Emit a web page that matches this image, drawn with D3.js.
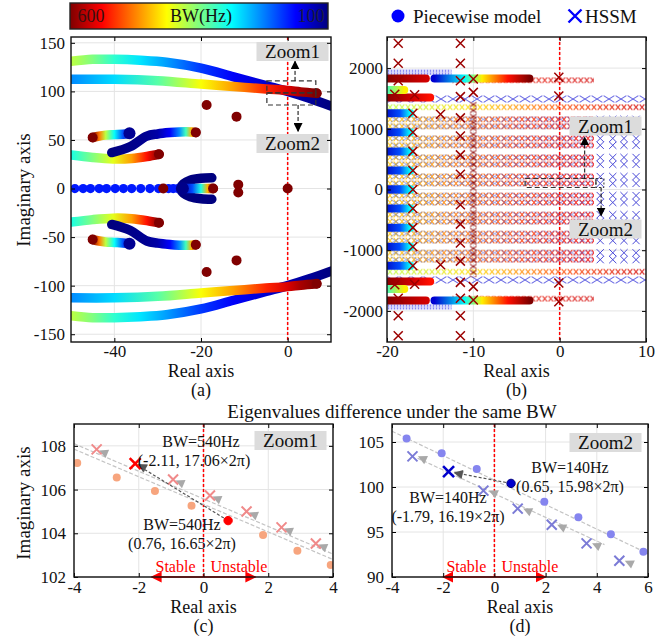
<!DOCTYPE html>
<html>
<head>
<meta charset="utf-8">
<script src="https://cdn.jsdelivr.net/npm/d3@7"></script>
<style>
  body { margin: 0; background: #fff; }
  text { font-family: "Liberation Serif", "Times New Roman", serif; }
</style>
</head>
<body>
<svg id="chart" width="670" height="638"></svg>
<script>
// ---------------- data ----------------
// colour bar end labels (BW in Hz)
const bwLabels = [600, 100];

// panel (a): piecewise-model eigen loci, [real, imag, BW]; conjugates drawn mirrored
const locusTop = [[-50, 131, 380], [-45, 133, 350], [-40, 133, 310], [-34, 132, 275], [-28, 130, 240],
  [-20, 124, 190], [-12.5, 115, 160], [-5, 106, 140], [0, 100, 125], [5, 93, 112], [10, 85, 100]];
const locusMid = [[-50, 112.5, 230], [-40, 112.5, 270], [-30, 111, 330], [-20, 107.5, 410],
  [-12.5, 105, 460], [-5, 102.5, 520], [0, 101, 555], [3, 99.5, 580], [6.7, 98, 600]];
const locus53 = [[-45, 52.5, 600], [-43.5, 54, 480], [-42, 55, 380], [-40, 55.5, 290], [-38, 56, 200], [-36.5, 56.5, 120]];
const locusRise = [[-40.6, 37, 100], [-36.4, 43, 105], [-32.5, 54, 110], [-30, 56.2, 120], [-27.2, 57.6, 160],
  [-25, 58.3, 230], [-23.5, 58.5, 320], [-22.2, 58.3, 450], [-21.2, 57.8, 600]];
const locus35 = [[-50, 34.6, 300], [-45, 32, 350], [-40.3, 30.5, 400], [-36, 31, 460], [-32.5, 33, 530], [-29.7, 35.3, 600]];
const locusFork = [[-24, 0, 130], [-22, 0, 200], [-20, 0, 300], [-18.5, 0, 450], [-17.2, 0, 600]];
const locusBranch = [[-24.8, 0.5, 100], [-24, 5, 100], [-22.5, 8.5, 100], [-20, 10.5, 100], [-17.5, 11, 100]];
const realAxisDots = [-49.1, -47.2, -45.5, -43.5, -41.8, -39.8, -37.9, -36, -33.9, -31.8, -29.8, -27.5, -26.4, -25.3];
const fixedPolesA = [[-18.7, 86], [-11.8, 74], [-11.4, 4], [0, 0], [-28.7, 0], [-17.2, 0]];
const locusEnds = [[-45, 52.5], [-21.2, 57.8], [-29.7, 35.3], [6.7, 98]];

// panel (b): HSSM sub-rows (imag parts, with conjugates) and colour runs [x, BW]
const hssmRowY = [100, 214, 414, 528, 728, 842, 1042, 1156];
const hssmRowRun = [[-20, 440], [-12, 480], [-5, 510], [4, 545]];
const hssmRow1356 = [[-20, 380], [-10, 430], [0, 500], [10, 560]];
const hssmRow1800 = [[-12.5, 520], [4, 560]];
const hssmBlueRightX = [4.7, 6.15, 7.45, 8.85];
const hssmBlueRowY = [1490];
const hssmBlueDenseY = 1932;
const hssmDark = [[-18.7, 2410], [-18.7, 2080], [-18.7, 1790], [-19.1, 1570], [-16.8, 1560],
  [-11.5, 2410], [-11.5, 2080], [-11.5, 1790], [-11.5, 1530], [-10, 1820], [-10, 1600],
  [-0.1, 1850], [-0.1, 1540], [-13.8, 1240], [-17, 1256], [-17, 942], [-17, 628], [-17, 314], [-17, 0],
  [-11.5, 1180], [-11.5, 880], [-11.5, 570], [-11.5, 250]];
const hssmChain = [-10, 1450];
const pwBlobY = [0, 314, 628, 942, 1256];
const pwBlobRun = [[-20.5, 0, 130], [-18.5, 0, 200], [-17.3, 0, 290]];
const pwStrips = [
  [[-20.5, 1516, 600], [-17, 1516, 560], [-15, 1516, 530]],
  [[-20.5, 1640, 300], [-18, 1640, 420]],
  [[-20.5, 1830, 600], [-15.5, 1830, 560]],
  [[-14.5, 1830, 140], [-11, 1830, 290], [-9, 1830, 420], [-6, 1830, 530], [-3.5, 1830, 600]]
];

// panel (c): zoom 1, BW = 540 Hz side
const zoom1Dots = [[-3.9, 107.22], [-2.68, 106.55], [-1.5, 105.93], [-0.37, 105.26], [1.84, 103.92], [2.9, 103.2], [3.93, 102.55]];
const zoom1Cross = [[-3.3, 107.84], [-0.94, 106.46], [0.2, 105.73], [1.33, 105.0], [2.41, 104.27], [3.47, 103.53]];
const zoom1Dot540 = [0.76, 104.58];
const zoom1Cross540 = [-2.11, 107.19];
const zoom1Guides = [[[-4, 108.1], [4, 103.05]], [[-4, 107.85], [4, 102.8]]];

// panel (d): zoom 2, BW = 140 Hz side
const zoom2Dots = [[-3.43, 105.4], [-2.06, 103.74], [-0.69, 102.0], [1.95, 98.37], [3.28, 96.63], [4.55, 94.74], [5.82, 92.8]];
const zoom2Cross = [[-3.2, 103.4], [-0.43, 99.6], [0.91, 97.6], [2.24, 95.8], [3.6, 93.74], [4.88, 91.8]];
const zoom2Dot140 = [0.65, 100.4];
const zoom2Cross140 = [-1.79, 101.7];
const zoom2Guides = [[[-4, 106.2], [6, 92.6]], [[-3, 103.2], [4.3, 93.6]]];

// ticks
const ticksA = { x: [-40, -20, 0], y: [-150, -100, -50, 0, 50, 100, 150] };
const ticksB = { x: [-20, -10, 0, 10], y: [-2000, -1000, 0, 1000, 2000] };
const ticksC = { x: [-4, -2, 0, 2, 4], y: [102, 104, 106, 108] };
const ticksD = { x: [-4, -2, 0, 2, 4, 6], y: [90, 95, 100, 105] };

// ---------------- setup ----------------
const svg = d3.select("#chart");
const defs = svg.append("defs");

const jet = d3.scaleLinear()
  .domain([0, 0.125, 0.375, 0.625, 0.875, 1])
  .range(["#00007f", "#0000ff", "#00ffff", "#ffff00", "#ff0000", "#7f0000"])
  .clamp(true);
const bwColor = bw => jet((bw - 100) / 500);

const A = { l: 71, r: 331, t: 37, b: 342 };
const B = { l: 387, r: 646, t: 37, b: 342 };
const C = { l: 74, r: 333, t: 424, b: 577 };
const D = { l: 392, r: 648, t: 424, b: 577 };

const xA = d3.scaleLinear().domain([-50, 10]).range([A.l, A.r]);
const yA = d3.scaleLinear().domain([-158, 156]).range([A.b, A.t]);
const xB = d3.scaleLinear().domain([-20, 10]).range([B.l, B.r]);
const yB = d3.scaleLinear().domain([-2512, 2512]).range([B.b, B.t]);
const xC = d3.scaleLinear().domain([-4, 4]).range([C.l, C.r]);
const yC = d3.scaleLinear().domain([102, 109]).range([C.b, C.t]);
const xD = d3.scaleLinear().domain([-4, 6]).range([D.l, D.r]);
const yD = d3.scaleLinear().domain([90, 107]).range([D.b, D.t]);

// arrow heads
function marker(id, color, size) {
  defs.append("marker").attr("id", id)
    .attr("viewBox", "0 0 10 10").attr("refX", 9).attr("refY", 5)
    .attr("markerWidth", size).attr("markerHeight", size)
    .attr("markerUnits", "userSpaceOnUse").attr("orient", "auto-start-reverse")
    .append("path").attr("d", "M0,0L10,5L0,10Z").attr("fill", color);
}
marker("arBlack", "#000", 9);
marker("arRed", "#ff0000", 11);

let gid = 0;
// horizontal gradient from [x, BW] pairs
function runGradient(run, x) {
  const id = "grad" + (gid++);
  const px = run.map(d => x(d[0]));
  const lo = d3.min(px), hi = d3.max(px);
  const stops = run.map((d, i) => ({ o: hi > lo ? (px[i] - lo) / (hi - lo) : 0, c: bwColor(d[1]) }))
    .sort((a, b) => a.o - b.o);
  const g = defs.append("linearGradient").attr("id", id)
    .attr("gradientUnits", "userSpaceOnUse")
    .attr("x1", lo).attr("x2", hi).attr("y1", 0).attr("y2", 0);
  g.selectAll("stop").data(stops).enter().append("stop")
    .attr("offset", d => d.o).attr("stop-color", d => d.c);
  return "url(#" + id + ")";
}

// thick coloured locus through [re, im, BW] points
function drawLocus(g, pts, x, y, w, sign) {
  const line = d3.line().x(p => x(p[0])).y(p => y(sign * p[1])).curve(d3.curveCatmullRom);
  g.append("path")
    .attr("d", line(pts))
    .attr("fill", "none")
    .attr("stroke", runGradient(pts.map(p => [p[0], p[2]]), x))
    .attr("stroke-width", w)
    .attr("stroke-linecap", "round")
    .attr("stroke-linejoin", "round");
}

// row of crosses drawn as a masked strip (pattern of X glyphs)
function crossStrip(g, x0, y0, w, h, tw, th, fill, op) {
  const id = "cm" + (gid++);
  const pat = defs.append("pattern").attr("id", id + "p")
    .attr("patternUnits", "userSpaceOnUse")
    .attr("x", x0).attr("y", y0).attr("width", tw).attr("height", th);
  pat.append("path")
    .attr("d", `M0.6,0.6L${tw - 0.6},${th - 0.6}M${tw - 0.6},0.6L0.6,${th - 0.6}`)
    .attr("stroke", "#fff").attr("stroke-width", 1.1);
  defs.append("mask").attr("id", id).attr("maskUnits", "userSpaceOnUse")
    .attr("x", x0).attr("y", y0).attr("width", w).attr("height", h)
    .append("rect").attr("x", x0).attr("y", y0).attr("width", w).attr("height", h)
    .attr("fill", `url(#${id}p)`);
  g.append("rect").attr("x", x0).attr("y", y0).attr("width", w).attr("height", h)
    .attr("fill", fill).attr("opacity", op).attr("mask", `url(#${id})`);
}

function crossMark(g, cx, cy, s, color, sw) {
  g.append("path")
    .attr("d", `M${cx - s},${cy - s}L${cx + s},${cy + s}M${cx + s},${cy - s}L${cx - s},${cy + s}`)
    .attr("stroke", color).attr("stroke-width", sw).attr("fill", "none");
}

function clipFor(id, P) {
  defs.append("clipPath").attr("id", id)
    .append("rect").attr("x", P.l).attr("y", P.t).attr("width", P.r - P.l).attr("height", P.b - P.t);
}

// grid + ticks + labels
function grid(P, x, y, t) {
  const g = svg.append("g");
  g.selectAll(".gx").data(t.x).enter().append("line")
    .attr("x1", d => x(d)).attr("x2", d => x(d)).attr("y1", P.t).attr("y2", P.b)
    .attr("stroke", "#e4e4e4").attr("stroke-width", 1);
  g.selectAll(".gy").data(t.y).enter().append("line")
    .attr("y1", d => y(d)).attr("y2", d => y(d)).attr("x1", P.l).attr("x2", P.r)
    .attr("stroke", "#e4e4e4").attr("stroke-width", 1);
}
function frame(P, x, y, t, fs, padX, padY) {
  const fmt = d => String(d);
  const gx = svg.append("g").attr("transform", `translate(0,${P.b})`)
    .call(d3.axisBottom(x).tickValues(t.x).tickFormat(fmt).tickSizeInner(-4).tickSizeOuter(0).tickPadding(padX));
  const gy = svg.append("g").attr("transform", `translate(${P.l},0)`)
    .call(d3.axisLeft(y).tickValues(t.y).tickFormat(fmt).tickSizeInner(-4).tickSizeOuter(0).tickPadding(padY));
  svg.append("g").attr("transform", `translate(0,${P.t})`)
    .call(d3.axisTop(x).tickValues(t.x).tickFormat("").tickSizeInner(-4).tickSizeOuter(0));
  svg.append("g").attr("transform", `translate(${P.r},0)`)
    .call(d3.axisRight(y).tickValues(t.y).tickFormat("").tickSizeInner(-4).tickSizeOuter(0));
  svg.selectAll(".domain").remove();
  [gx, gy].forEach(g => g.attr("font-size", fs).attr("font-family", null)
    .selectAll("text").attr("fill", "#111"));
  svg.append("rect").attr("x", P.l).attr("y", P.t).attr("width", P.r - P.l).attr("height", P.b - P.t)
    .attr("fill", "none").attr("stroke", "#111").attr("stroke-width", 1.4);
}
function zeroLine(g, x, P) {
  g.append("line").attr("x1", x(0)).attr("x2", x(0)).attr("y1", P.t).attr("y2", P.b)
    .attr("stroke", "#ff0000").attr("stroke-width", 1.5).attr("stroke-dasharray", "3,2");
}
function label(x, y, txt, fs, anchor, color) {
  return svg.append("text").attr("x", x).attr("y", y).attr("font-size", fs)
    .attr("text-anchor", anchor || "middle").attr("fill", color || "#111").text(txt);
}
function zoomTag(cx, cy, txt) {
  svg.append("rect").attr("x", cx - 36).attr("y", cy - 9.5).attr("width", 72).attr("height", 19).attr("fill", "#dcdcdc");
  label(cx, cy + 6.5, txt, 19);
}

// ---------------- colour bar ----------------
const cbGrad = defs.append("linearGradient").attr("id", "cbar");
cbGrad.selectAll("stop").data(d3.range(0, 1.0001, 0.125)).enter().append("stop")
  .attr("offset", d => d).attr("stop-color", d => jet(1 - d));
svg.append("rect").attr("x", 70).attr("y", 3).attr("width", 258).attr("height", 26)
  .attr("fill", "url(#cbar)").attr("stroke", "#222").attr("stroke-width", 1.4);
label(91, 22, bwLabels[0], 18, "middle", "#3a1010");
label(201, 22, "BW(Hz)", 18, "middle", "#111");
label(311, 22, bwLabels[1], 18, "middle", "#1a1a40");

// ---------------- panel (a) ----------------
clipFor("clipA", A);
grid(A, xA, yA, ticksA);
const gA = svg.append("g").attr("clip-path", "url(#clipA)");
zeroLine(gA, xA, A);
[1, -1].forEach(s => {
  drawLocus(gA, locusTop, xA, yA, 9.5, s);
  drawLocus(gA, locusMid, xA, yA, 9.5, s);
  drawLocus(gA, locus35, xA, yA, 9.5, s);
  drawLocus(gA, locusRise, xA, yA, 9.5, s);
  drawLocus(gA, locus53, xA, yA, 9.5, s);
  drawLocus(gA, locusBranch, xA, yA, 9.5, s);
});
gA.selectAll(".rad").data(realAxisDots).enter().append("circle")
  .attr("cx", d => xA(d)).attr("cy", yA(0)).attr("r", 4.6).attr("fill", bwColor(175));
drawLocus(gA, locusFork, xA, yA, 9.5, 1);
gA.selectAll(".blob").data([1, -1]).enter().append("circle")
  .attr("cx", xA(-36.5)).attr("cy", s => yA(s * 56.8)).attr("r", 6).attr("fill", bwColor(110));
gA.selectAll(".fork").data([0]).enter().append("circle")
  .attr("cx", xA(-24.3)).attr("cy", yA(0)).attr("r", 6.5).attr("fill", bwColor(105));
const polesA = fixedPolesA.concat(fixedPolesA.filter(d => d[1] !== 0).map(d => [d[0], -d[1]]))
  .concat(locusEnds).concat(locusEnds.map(d => [d[0], -d[1]]));
gA.selectAll(".pole").data(polesA).enter().append("circle")
  .attr("cx", d => xA(d[0])).attr("cy", d => yA(d[1])).attr("r", 5).attr("fill", "#800000");

// zoom boxes in (a)
const dashBox = (g, x, y, r) => g.append("rect")
  .attr("x", x(r[0])).attr("y", y(r[3])).attr("width", x(r[1]) - x(r[0])).attr("height", y(r[2]) - y(r[3]))
  .attr("fill", "none").attr("stroke", "#333").attr("stroke-width", 1.2).attr("stroke-dasharray", "5,3");
dashBox(svg, xA, yA, [-4.8, 6.5, 98.5, 110.8]);
dashBox(svg, xA, yA, [-4.8, 6.5, 86, 98.5]);
svg.append("line").attr("x1", xA(1.7)).attr("x2", xA(1.7)).attr("y1", yA(110.8)).attr("y2", yA(131))
  .attr("stroke", "#000").attr("stroke-dasharray", "4,2").attr("marker-end", "url(#arBlack)");
svg.append("line").attr("x1", xA(2.4)).attr("x2", xA(2.4)).attr("y1", yA(86)).attr("y2", yA(59))
  .attr("stroke", "#000").attr("stroke-dasharray", "4,2").attr("marker-end", "url(#arBlack)");
zoomTag(292.5, 51.5, "Zoom1");
zoomTag(292.5, 143.5, "Zoom2");
frame(A, xA, yA, ticksA, 17, 3, 6);
label((A.l + A.r) / 2, 377, "Real axis", 18);
label((A.l + A.r) / 2, 396, "(a)", 18);
svg.append("text").attr("transform", "translate(30,190) rotate(-90)")
  .attr("font-size", 19).attr("text-anchor", "middle").attr("fill", "#111").text("Imaginary axis");

// ---------------- panel (b) ----------------
clipFor("clipB", B);
grid(B, xB, yB, ticksB);
const gB = svg.append("g").attr("clip-path", "url(#clipB)");
zeroLine(gB, xB, B);
const rowH = 7, rowStep = 6;
[1, -1].forEach(s => {
  // orange-red HSSM rows
  const fillRun = runGradient(hssmRowRun, xB);
  hssmRowY.forEach(v => {
    crossStrip(gB, xB(hssmRowRun[0][0]), yB(s * v) - rowH / 2, xB(4) - xB(-20), rowH, rowStep, rowH, fillRun, 0.85);
    crossStrip(gB, xB(-20) + 3, yB(s * v) - rowH / 2, xB(3.5) - xB(-20), rowH, 11, rowH, "#3050e0", 0.45);
    hssmBlueRightX.forEach(xv => crossMark(gB, xB(xv), yB(s * v), 3.6, "#4a4ad8", 1));
  });
  crossStrip(gB, xB(-20), yB(s * 1356) - rowH / 2, xB(10) - xB(-20), rowH, rowStep, rowH, runGradient(hssmRow1356, xB), 0.85);
  crossStrip(gB, xB(-12.5), yB(s * 1800) - rowH / 2, xB(4) - xB(-12.5), rowH, rowStep, rowH, runGradient(hssmRow1800, xB), 0.8);
  hssmBlueRowY.forEach(v => {
    crossStrip(gB, xB(-20), yB(s * v) - 4, xB(10) - xB(-20), 8, 12, 8, "#2c2cd8", 0.75);
  });
  crossStrip(gB, xB(-20), yB(s * hssmBlueDenseY) - 3, xB(-12.5) - xB(-20), 6, 3, 3, "#5a5af0", 0.8);
  // piecewise model traces at the left edge
  pwBlobY.forEach(v => drawLocus(gB, pwBlobRun.map(p => [p[0], v, p[2]]), xB, yB, 8, s));
  pwStrips.forEach(st => drawLocus(gB, st, xB, yB, 8, s));
});
// chain of poles at Re = -10
crossStrip(gB, xB(hssmChain[0]) - 4, yB(hssmChain[1]), 8, yB(-hssmChain[1]) - yB(hssmChain[1]), 8, 6, "#8b0000", 0.9);
hssmDark.forEach(d => {
  crossMark(gB, xB(d[0]), yB(d[1]), 4.5, "#9b0000", 1.5);
  if (d[1] !== 0) crossMark(gB, xB(d[0]), yB(-d[1]), 4.5, "#9b0000", 1.5);
});
// zoom annotations in (b)
dashBox(svg, xB, yB, [-4, 4.2, 33, 181]);
svg.append("rect").attr("x", xB(4.2)).attr("y", yB(181)).attr("width", 8).attr("height", yB(33) - yB(181))
  .attr("fill", "none").attr("stroke", "#333").attr("stroke-dasharray", "2,2");
svg.append("line").attr("x1", xB(2.9)).attr("x2", xB(2.9)).attr("y1", yB(181)).attr("y2", yB(860))
  .attr("stroke", "#000").attr("stroke-dasharray", "4,2").attr("marker-end", "url(#arBlack)");
svg.append("line").attr("x1", xB(4.8)).attr("x2", xB(4.8)).attr("y1", yB(33)).attr("y2", yB(-430))
  .attr("stroke", "#000").attr("stroke-dasharray", "4,2").attr("marker-end", "url(#arBlack)");
zoomTag(605.5, 126, "Zoom1");
zoomTag(605.5, 229, "Zoom2");
frame(B, xB, yB, ticksB, 17, 3, 4);
label((B.l + B.r) / 2, 377, "Real axis", 18);
label((B.l + B.r) / 2, 396, "(b)", 18);

// legend
svg.append("circle").attr("cx", 398).attr("cy", 16).attr("r", 6.5).attr("fill", "#0000ff");
label(413, 23, "Piecewise model", 19, "start");
crossMark(svg, 575, 16, 6.5, "#0000ff", 2.4);
label(585, 23, "HSSM", 19, "start");

// ---------------- panels (c) and (d) ----------------
label(392, 418, "Eigenvalues difference under the same BW", 19);

function zoomPanel(P, x, y, t, dots, cross, dotHi, crossHi, guides, col, tag, notes) {
  const clip = "clip" + tag;
  clipFor(clip, P);
  grid(P, x, y, t);
  const g = svg.append("g").attr("clip-path", `url(#${clip})`);
  zeroLine(g, x, P);
  guides.forEach(gl => g.append("line")
    .attr("x1", x(gl[0][0])).attr("y1", y(gl[0][1])).attr("x2", x(gl[1][0])).attr("y2", y(gl[1][1]))
    .attr("stroke", "#c4c4c4").attr("stroke-width", 1.2).attr("stroke-dasharray", "4,2"));
  g.selectAll(".dot").data(dots).enter().append("circle")
    .attr("cx", d => x(d[0])).attr("cy", d => y(d[1])).attr("r", 4).attr("fill", col.dot);
  // grey arrow heads next to each cross, along the guide direction
  const gl = guides[1];
  const ang = Math.atan2(y(gl[1][1]) - y(gl[0][1]), x(gl[1][0]) - x(gl[0][0])) * 180 / Math.PI;
  g.selectAll(".tri").data(cross.concat([crossHi])).enter().append("path")
    .attr("d", "M-5,0L4,-4.5L4,4.5Z").attr("fill", "#a9a9a9")
    .attr("transform", d => `translate(${x(d[0]) + col.tri[0]},${y(d[1]) + col.tri[1]}) rotate(${ang})`);
  cross.forEach(d => crossMark(g, x(d[0]), y(d[1]), 5, col.cross, 2));
  // highlighted pair
  g.append("line").attr("x1", x(dotHi[0])).attr("y1", y(dotHi[1]))
    .attr("x2", x(crossHi[0]) + col.tri[0] - 4).attr("y2", y(crossHi[1]) + col.tri[1] - 1)
    .attr("stroke", "#555").attr("stroke-width", 1.2).attr("stroke-dasharray", "3,2");
  g.append("path").attr("d", "M-5,0L4,-4.5L4,4.5Z").attr("fill", "#555")
    .attr("transform", `translate(${x(crossHi[0]) + col.tri[0]},${y(crossHi[1]) + col.tri[1]}) rotate(${Math.atan2(y(dotHi[1]) - y(crossHi[1]), x(dotHi[0]) - x(crossHi[0])) * 180 / Math.PI})`);
  crossMark(g, x(crossHi[0]), y(crossHi[1]), 5.5, col.hi, 2.6);
  g.append("circle").attr("cx", x(dotHi[0])).attr("cy", y(dotHi[1])).attr("r", 4.2).attr("fill", col.hi)
    .attr("stroke", col.hiStroke).attr("stroke-width", 1);
  notes.forEach(n => label(n[0], n[1], n[2], 16, "middle"));
  // stable / unstable arrows
  svg.append("line").attr("x1", x(0)).attr("x2", x(col.arrow[0])).attr("y1", P.b).attr("y2", P.b)
    .attr("stroke", "#ff0000").attr("stroke-width", 1.6).attr("marker-end", "url(#arRed)");
  svg.append("line").attr("x1", x(0)).attr("x2", x(col.arrow[1])).attr("y1", P.b).attr("y2", P.b)
    .attr("stroke", "#ff0000").attr("stroke-width", 1.6).attr("marker-end", "url(#arRed)");
  label(x(0) - 8, P.b - 5, "Stable", 16, "end", "#ff0000");
  label(x(0) + 7, P.b - 5, "Unstable", 16, "start", "#ff0000");
  frame(P, x, y, t, 17, 4, 8);
  label((P.l + P.r) / 2, 613, "Real axis", 18);
}

zoomPanel(C, xC, yC, ticksC, zoom1Dots, zoom1Cross, zoom1Dot540, zoom1Cross540, zoom1Guides,
  { dot: "#f7a57e", cross: "#f08a8a", hi: "#ff0000", hiStroke: "#ff0000", tri: [7, 3], arrow: [-1.6, 1.6] }, "C",
  [[201, 447, "BW=540Hz"], [194, 466, "(-2.11, 17.06×2π)"], [182, 530, "BW=540Hz"], [182, 549, "(0.76, 16.65×2π)"]]);
zoomTag(290.5, 440.5, "Zoom1");
label(203.5, 632, "(c)", 18);
svg.append("text").attr("transform", "translate(30,503) rotate(-90)")
  .attr("font-size", 19).attr("text-anchor", "middle").attr("fill", "#111").text("Imaginary axis");

zoomPanel(D, xD, yD, ticksD, zoom2Dots, zoom2Cross, zoom2Dot140, zoom2Cross140, zoom2Guides,
  { dot: "#8585ef", cross: "#7b7bd6", hi: "#0000cc", hiStroke: "#000080", tri: [10, 2], arrow: [-2, 2] }, "D",
  [[570, 473, "BW=140Hz"], [570, 492, "(0.65, 15.98×2π)"], [448, 503, "BW=140Hz"], [448, 522, "(-1.79, 16.19×2π)"]]);
zoomTag(605.5, 442.5, "Zoom2");
label(520, 632, "(d)", 18);
</script>
</body>
</html>
